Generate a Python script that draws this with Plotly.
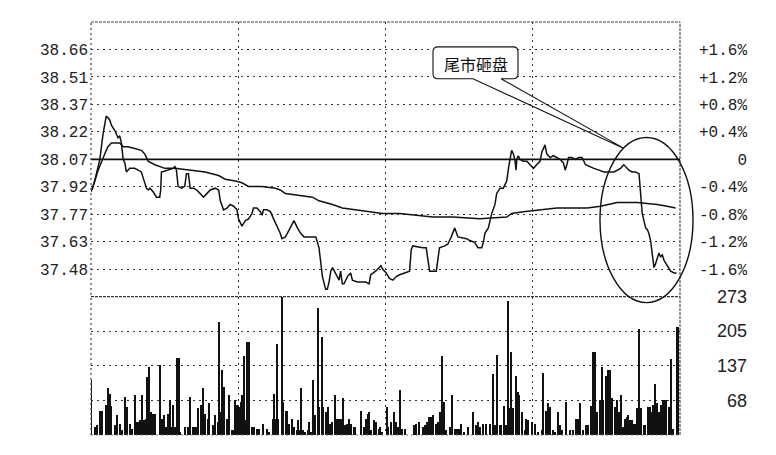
import plotly.graph_objects as go

# ---------------- data ----------------
PREV_CLOSE = 38.07
PRICE_LABELS = ["38.66", "38.51", "38.37", "38.22", "38.07", "37.92", "37.77", "37.63", "37.48"]
PCT_STEPS = [1.6, 1.2, 0.8, 0.4, 0.0, -0.4, -0.8, -1.2, -1.6]
PCT_LABELS = ["+1.6%", "+1.2%", "+0.8%", "+0.4%", "0", "-0.4%", "-0.8%", "-1.2%", "-1.6%"]
VOL_TICKS = [68, 137, 205, 273]
VOL_LABELS = ["68", "137", "205", "273"]
TIME_GRID = [60, 120, 180]
CALLOUT_TEXT = "尾市砸盘"

PRICE_T = [0, 1.5, 3.6, 4.9, 6.2, 7.6, 8.3, 9.7, 11.0, 11.7,
           12.4, 13.1, 13.8, 14.4, 15.8, 17.8, 19.2, 20.5, 21.2, 22.6,
           23.3, 24.0, 25.3, 26.7, 28.0, 28.4, 28.7, 31.4, 33.5, 34.2,
           34.8, 35.5, 36.9, 38.2, 38.9, 39.7, 40.4, 41.8, 43.1, 44.5,
           45.8, 47.2, 48.6, 50.6, 52.0, 52.7, 54.0, 55.4, 56.7, 58.1,
           59.5, 60.1, 61.5, 62.9, 64.2, 65.6, 66.2, 67.6, 69.0, 69.7,
           70.3, 71.7, 73.1, 74.4, 75.8, 77.1, 77.8, 79.2, 80.0, 81.3,
           82.7, 84.1, 85.4, 86.8, 91.6, 92.9, 93.6, 94.3, 95.6, 96.3,
           97.0, 97.7, 98.4, 99.7, 101.1, 101.7, 102.4, 103.1, 104.5, 105.8,
           106.5, 108.5, 112.0, 113.3, 114.0, 116.0, 118.1, 118.9, 120.3, 121.6,
           123.0, 124.4, 125.7, 127.8, 129.8, 130.5, 131.1, 135.2, 136.6, 137.3,
           138.0, 140.7, 142.0, 144.1, 145.4, 146.1, 146.8, 148.2, 149.5, 153.0,
           154.3, 156.3, 157.7, 159.2, 159.9, 160.5, 161.9, 163.3, 164.6, 165.3,
           166.7, 168.0, 169.4, 170.1, 170.7, 171.4, 172.1, 172.8, 173.2, 173.5,
           174.1, 174.8, 176.2, 177.6, 178.9, 180.3, 181.6, 183.0, 183.7, 185.0,
           185.7, 187.1, 188.4, 189.8, 191.1, 192.5, 193.2, 193.9, 194.6, 195.9,
           197.3, 198.8, 200.1, 201.5, 202.9, 204.9, 207.0, 209.0, 213.1, 214.4,
           215.8, 217.1, 217.8, 219.2, 220.5, 221.9, 223.3, 224.0, 224.6, 225.3,
           226.0, 226.7, 227.3, 228.0, 228.7, 229.4, 230.0, 230.7, 231.4, 232.1,
           232.8, 233.5, 234.8, 236.2, 237.6, 238.6]
PRICE = [37.89, 37.95, 38.07, 38.21, 38.31, 38.29, 38.26, 38.23, 38.19, 38.20,
         38.16, 38.07, 38.05, 38.00, 38.02, 38.02, 38.01, 38.00, 37.97, 37.91,
         37.90, 37.91, 37.89, 37.86, 37.86, 37.90, 38.00, 38.01, 38.02, 38.03,
         38.01, 37.92, 37.91, 37.92, 37.99, 37.99, 37.91, 37.91, 37.90, 37.88,
         37.86, 37.88, 37.90, 37.91, 37.90, 37.84, 37.79, 37.80, 37.82, 37.81,
         37.79, 37.74, 37.70, 37.73, 37.74, 37.77, 37.80, 37.80, 37.78, 37.76,
         37.79, 37.79, 37.78, 37.74, 37.70, 37.66, 37.63, 37.64, 37.66, 37.69,
         37.73, 37.69, 37.66, 37.64, 37.64, 37.58, 37.49, 37.42, 37.35, 37.35,
         37.39, 37.45, 37.47, 37.44, 37.40, 37.45, 37.38, 37.38, 37.42, 37.44,
         37.40, 37.39, 37.39, 37.38, 37.43, 37.45, 37.48, 37.46, 37.44, 37.41,
         37.40, 37.42, 37.43, 37.44, 37.45, 37.57, 37.59, 37.58, 37.58, 37.51,
         37.45, 37.45, 37.58, 37.59, 37.60, 37.62, 37.64, 37.69, 37.64, 37.63,
         37.62, 37.61, 37.58, 37.58, 37.61, 37.66, 37.69, 37.77, 37.82, 37.88,
         37.91, 37.91, 37.95, 38.02, 38.07, 38.12, 38.10, 38.06, 38.01, 38.07,
         38.09, 38.07, 38.06, 38.06, 38.04, 38.02, 38.04, 38.06, 38.11, 38.15,
         38.10, 38.08, 38.09, 38.08, 38.07, 38.05, 38.01, 38.04, 38.08, 38.08,
         38.07, 38.08, 38.08, 38.04, 38.03, 38.02, 38.01, 38.00, 38.00, 38.01,
         38.02, 38.04, 38.03, 38.01, 38.00, 38.00, 37.99, 37.86, 37.77, 37.73,
         37.69, 37.68, 37.66, 37.62, 37.55, 37.47, 37.49, 37.52, 37.55, 37.53,
         37.54, 37.51, 37.48, 37.45, 37.44, 37.44]

AVG_T = [0.4, 2.9, 5.6, 6.9, 8.3, 11.7, 13.1, 15.1, 17.8, 20.5,
         21.9, 23.3, 26.0, 30.1, 34.2, 39.6, 46.5, 52.0, 54.7, 58.8,
         61.5, 64.2, 69.7, 75.1, 77.1, 79.2, 84.8, 90.2, 92.9, 98.4,
         102.4, 107.9, 113.3, 118.8, 125.7, 139.3, 147.5, 158.4, 169.4, 171.4,
         176.2, 184.4, 189.8, 198.0, 202.2, 207.6, 214.4, 222.6, 230.7, 234.8,
         238.2]
AVG = [37.90, 38.01, 38.10, 38.14, 38.16, 38.16, 38.14, 38.14, 38.13, 38.12,
       38.10, 38.06, 38.04, 38.02, 38.02, 38.01, 38.00, 37.98, 37.96, 37.95,
       37.94, 37.92, 37.92, 37.91, 37.90, 37.88, 37.87, 37.86, 37.84, 37.82,
       37.80, 37.79, 37.78, 37.77, 37.77, 37.75, 37.75, 37.74, 37.75, 37.77,
       37.78, 37.79, 37.80, 37.80, 37.80, 37.81, 37.83, 37.83, 37.82, 37.81,
       37.80]

VOL_T = [0, 1.9, 2.6, 3.9, 4.6, 6.1, 6.8, 7.8, 8.4, 9.8,
         10.5, 11.8, 12.5, 13.9, 14.7, 15.9, 16.6, 17.8, 18.4, 19.3,
         20.0, 20.8, 21.5, 22.3, 22.7, 23.7, 24.4, 25.4, 26.3, 28.2,
         28.8, 29.8, 30.5, 31.6, 32.4, 33.1, 33.6, 34.3, 35.0, 35.9,
         36.5, 38.4, 39.7, 40.4, 41.5, 42.4, 43.1, 43.8, 44.8, 45.9,
         46.5, 47.9, 48.3, 49.9, 50.6, 51.7, 52.4, 53.1, 53.6, 54.3,
         55.4, 56.1, 57.4, 58.1, 58.8, 59.7, 60.4, 61.1, 61.8, 62.3,
         63.1, 63.8, 64.6, 65.6, 66.5, 67.6, 68.6, 70.1, 71.7, 72.5,
         74.1, 74.7, 75.2, 75.8, 76.3, 77.8, 78.5, 79.5, 80.1, 80.8,
         81.9, 82.6, 83.9, 84.4, 85.3, 85.7, 86.4, 87.3, 88.3, 88.8,
         89.7, 90.5, 91.4, 92.4, 93.1, 94.1, 94.8, 95.8, 96.6, 97.6,
         98.2, 99.6, 100.3, 101.2, 101.9, 102.7, 103.7, 104.4, 105.3, 106.1,
         107.1, 107.8, 110.1, 111.2, 112.1, 112.8, 113.5, 114.1, 115.5, 116.3,
         117.3, 117.9, 118.6, 120.7,
         121.1, 122.4, 123.4, 124.2, 125.2, 125.8, 126.8, 127.9, 131.6, 132.6,
         133.6, 135.4, 136.0, 137.0, 137.8, 138.8, 139.4, 140.8, 141.5, 142.2,
         143.1, 143.8, 144.9, 146.3, 147.3, 148.2, 149.0, 150.1, 151.0, 152.0,
         153.7, 155.8, 156.9, 157.8, 158.5, 159.6, 161.2, 162.6, 163.7, 164.6,
         165.7, 166.7, 167.3, 168.3, 169.1, 170.1, 170.7, 171.4, 172.1, 173.2,
         173.9, 174.5, 175.5, 176.9, 177.5, 178.2, 179.6, 180.9, 182.3, 183.7,
         184.3, 185.4, 186.1, 187.1, 188.4, 189.1, 190.5, 191.1, 191.8, 193.5,
         195.2, 196.6, 197.7, 198.4, 199.3, 200.7, 201.8, 202.7, 203.7, 204.8,
         205.4, 206.1, 207.5, 208.2, 208.8, 209.8, 210.9, 211.6, 212.2, 213.6,
         214.3, 215.2, 215.9, 217.0, 217.7, 218.4, 219.0, 219.7, 220.4, 221.1,
         221.8, 222.4, 223.4, 224.1, 225.2, 225.8, 227.2, 227.9, 228.6, 229.2,
         229.9, 230.6, 231.7, 232.4, 233.1, 233.7, 234.4, 235.4, 236.3, 237.4,
         238.8, 239.4]
VOL = [109, 16, 20, 49, 49, 59, 94, 81, 57, 20,
       40, 23, 10, 76, 56, 23, 13, 79, 26, 26,
       30, 79, 30, 33, 115, 135, 46, 43, 43, 138,
       33, 40, 16, 43, 69, 16, 59, 16, 152, 152,
       7, 16, 16, 76, 16, 16, 16, 53, 59, 93,
       43, 33, 63, 20, 40, 26, 224, 46, 129, 96,
       33, 79, 10, 10, 69, 59, 56, 66, 79, 156,
       30, 185, 185, 16, 16, 13, 13, 23, 13, 7,
       33, 82, 33, 181, 33, 273, 66, 49, 49, 23,
       33, 16, 10, 30, 10, 94, 10, 7, 10, 26,
       7, 109, 40, 251, 56, 195, 56, 46, 56, 23,
       26, 79, 33, 33, 33, 73, 20, 23, 33, 23,
       16, 16, 49, 16, 33, 43, 46, 10, 30, 26,
       13, 16, 7, 56,
       16, 26, 46, 26, 16, 90, 13, 13, 20, 23,
       26, 16, 20, 26, 36, 36, 40, 23, 26, 46,
       156, 66, 10, 16, 79, 13, 13, 13, 23, 7,
       16, 46, 20, 26, 16, 23, 23, 23, 121, 20,
       158, 20, 20, 57, 20, 266, 53, 165, 53, 117,
       86, 79, 46, 10, 33, 30, 26, 23, 7, 10,
       123, 49, 63, 56, 10, 7, 46, 20, 10, 66,
       10, 10, 33, 33, 63, 10, 20, 20, 57, 165,
       165, 46, 69, 135, 69, 117, 129, 129, 73, 56,
       69, 46, 79, 16, 33, 36, 40, 30, 30, 23,
       23, 53, 209, 53, 20, 20, 56, 56, 46, 59,
       102, 63, 46, 59, 69, 69, 69, 56, 150, 13,
       214, 214]

assert len(PRICE_T) == len(PRICE)
assert len(AVG_T) == len(AVG)
assert len(VOL_T) == len(VOL)

# ---------------- layout helpers (pixel -> paper) ----------------
W, H = 776, 455
ML, MR, MT, MB = 91, 96, 20, 20
PW, PH = W - ML - MR, H - MT - MB


def px(x):
    return (x - ML) / PW


def py(y):
    return (H - MB - y) / PH


SPLIT = py(296)
step = PREV_CLOSE * 0.004
price_ticks = [PREV_CLOSE + p / 0.4 * step for p in PCT_STEPS]
price_range = [PREV_CLOSE * 0.98, PREV_CLOSE * 1.02]

INK = "#111111"
GRID = "#333333"
MONO = "Liberation Mono"
NBSP = "\u00a0"

fig = go.Figure()

fig.add_trace(go.Bar(x=VOL_T, y=VOL, xaxis="x", yaxis="y3", width=0.55,
                     marker=dict(color=INK, line=dict(width=0)), showlegend=False,
                     hoverinfo="skip"))
fig.add_trace(go.Scatter(x=AVG_T, y=AVG, xaxis="x", yaxis="y", mode="lines",
                         line=dict(color=INK, width=1.5), showlegend=False,
                         hoverinfo="skip"))
fig.add_trace(go.Scatter(x=PRICE_T, y=PRICE, xaxis="x", yaxis="y", mode="lines",
                         line=dict(color=INK, width=1.5), showlegend=False,
                         hoverinfo="skip"))
# invisible trace to create percent axis
fig.add_trace(go.Scatter(x=[0], y=[0], xaxis="x", yaxis="y2", mode="markers",
                         marker=dict(opacity=0), showlegend=False, hoverinfo="skip"))

pct_text = [t if len(t) == 5 else NBSP * (5 - len(t)) + t for t in PCT_LABELS]
vol_text = [NBSP * (2 * (3 - len(t))) + t for t in VOL_LABELS]

fig.update_layout(
    width=W, height=H,
    margin=dict(l=ML, r=MR, t=MT, b=MB),
    paper_bgcolor="white", plot_bgcolor="white",
    showlegend=False, hovermode=False, bargap=0,
    xaxis=dict(domain=[0, 1], range=[0, 240], anchor="y3",
               tickvals=TIME_GRID, showticklabels=False, ticks="",
               showgrid=True, gridcolor=GRID, gridwidth=1.2, griddash="2px,4px",
               zeroline=False, showline=False, fixedrange=True),
    yaxis=dict(domain=[SPLIT, 1], range=price_range, tickvals=price_ticks,
               ticktext=PRICE_LABELS, ticks="", ticklabelstandoff=2,
               tickfont=dict(family=MONO, size=16, color="#222222"),
               showgrid=True, gridcolor=GRID, gridwidth=1.2, griddash="2px,4px",
               zeroline=False, showline=False, fixedrange=True),
    yaxis2=dict(overlaying="y", side="right", anchor="x", range=[-2, 2],
                tickvals=PCT_STEPS, ticktext=pct_text, ticks="",
                ticklabelstandoff=18,
                tickfont=dict(family=MONO, size=16, color="#222222"),
                showgrid=False, zeroline=False, showline=False, fixedrange=True),
    yaxis3=dict(domain=[0, SPLIT], range=[0, 273], side="right", anchor="x",
                tickvals=VOL_TICKS, ticktext=vol_text, ticks="",
                ticklabelstandoff=36,
                tickfont=dict(family="Liberation Sans", size=18, color="#222222"),
                showgrid=True, gridcolor=GRID, gridwidth=1.2, griddash="2px,4px",
                zeroline=False, showline=False, fixedrange=True),
)

shapes = []
# previous close baseline
shapes.append(dict(type="line", xref="paper", yref="y", x0=0, x1=1,
                   y0=PREV_CLOSE, y1=PREV_CLOSE, line=dict(color=INK, width=1.6),
                   layer="above"))
# frame
dense = "3px,1px"
for (x0, y0, x1, y1, dash, col) in [
    (0, 1, 1, 1, dense, "#444444"),
    (0, SPLIT, 1, SPLIT, dense, "#333333"),
    (0, 0, 1, 0, "2px,3px", "#777777"),
    (0, 0, 0, 1, "2px,3px", "#444444"),
    (1, 0, 1, 1, dense, "#555555"),
]:
    shapes.append(dict(type="line", xref="paper", yref="paper", x0=x0, y0=y0,
                       x1=x1, y1=y1, line=dict(color=col, width=1.2, dash=dash),
                       layer="above"))

# ellipse highlight
shapes.append(dict(type="circle", xref="paper", yref="paper",
                   x0=px(600), x1=px(693), y0=py(302), y1=py(136),
                   line=dict(color=INK, width=1.4), layer="above"))

# callout box (rounded rectangle) and pointer
L, R, T, B, r = 433, 518, 45, 77, 5


def P(x, y):
    return f"{px(x):.5f},{py(y):.5f}"


box_fill = (f"M{P(L + r, T)} L{P(R - r, T)} Q{P(R, T)} {P(R, T + r)} "
            f"L{P(R, B - r)} Q{P(R, B)} {P(R - r, B)} L{P(L + r, B)} "
            f"Q{P(L, B)} {P(L, B - r)} L{P(L, T + r)} Q{P(L, T)} {P(L + r, T)} Z")
shapes.append(dict(type="path", xref="paper", yref="paper", path=box_fill,
                   fillcolor="white", line=dict(width=0), layer="above"))
outline = (f"M{P(501, B)} L{P(R - r, B)} Q{P(R, B)} {P(R, B - r)} "
           f"L{P(R, T + r)} Q{P(R, T)} {P(R - r, T)} L{P(L + r, T)} "
           f"Q{P(L, T)} {P(L, T + r)} L{P(L, B - r)} Q{P(L, B)} {P(L + r, B)} "
           f"L{P(473, B)} L{P(624, 147)} L{P(501, B)}")
shapes.append(dict(type="path", xref="paper", yref="paper", path=outline,
                   fillcolor="rgba(0,0,0,0)", line=dict(color=INK, width=1.1),
                   layer="above"))
fig.update_layout(shapes=shapes)

fig.add_annotation(xref="paper", yref="paper", x=px(475.5), y=py(62),
                   text=CALLOUT_TEXT, showarrow=False,
                   font=dict(family="Noto Sans CJK SC", size=16, color=INK),
                   xanchor="center", yanchor="middle")

fig.write_html("out.html", config={"displayModeBar": False},
               post_script="document.body.style.margin='0px';"
                           "document.body.style.padding='0px';")
